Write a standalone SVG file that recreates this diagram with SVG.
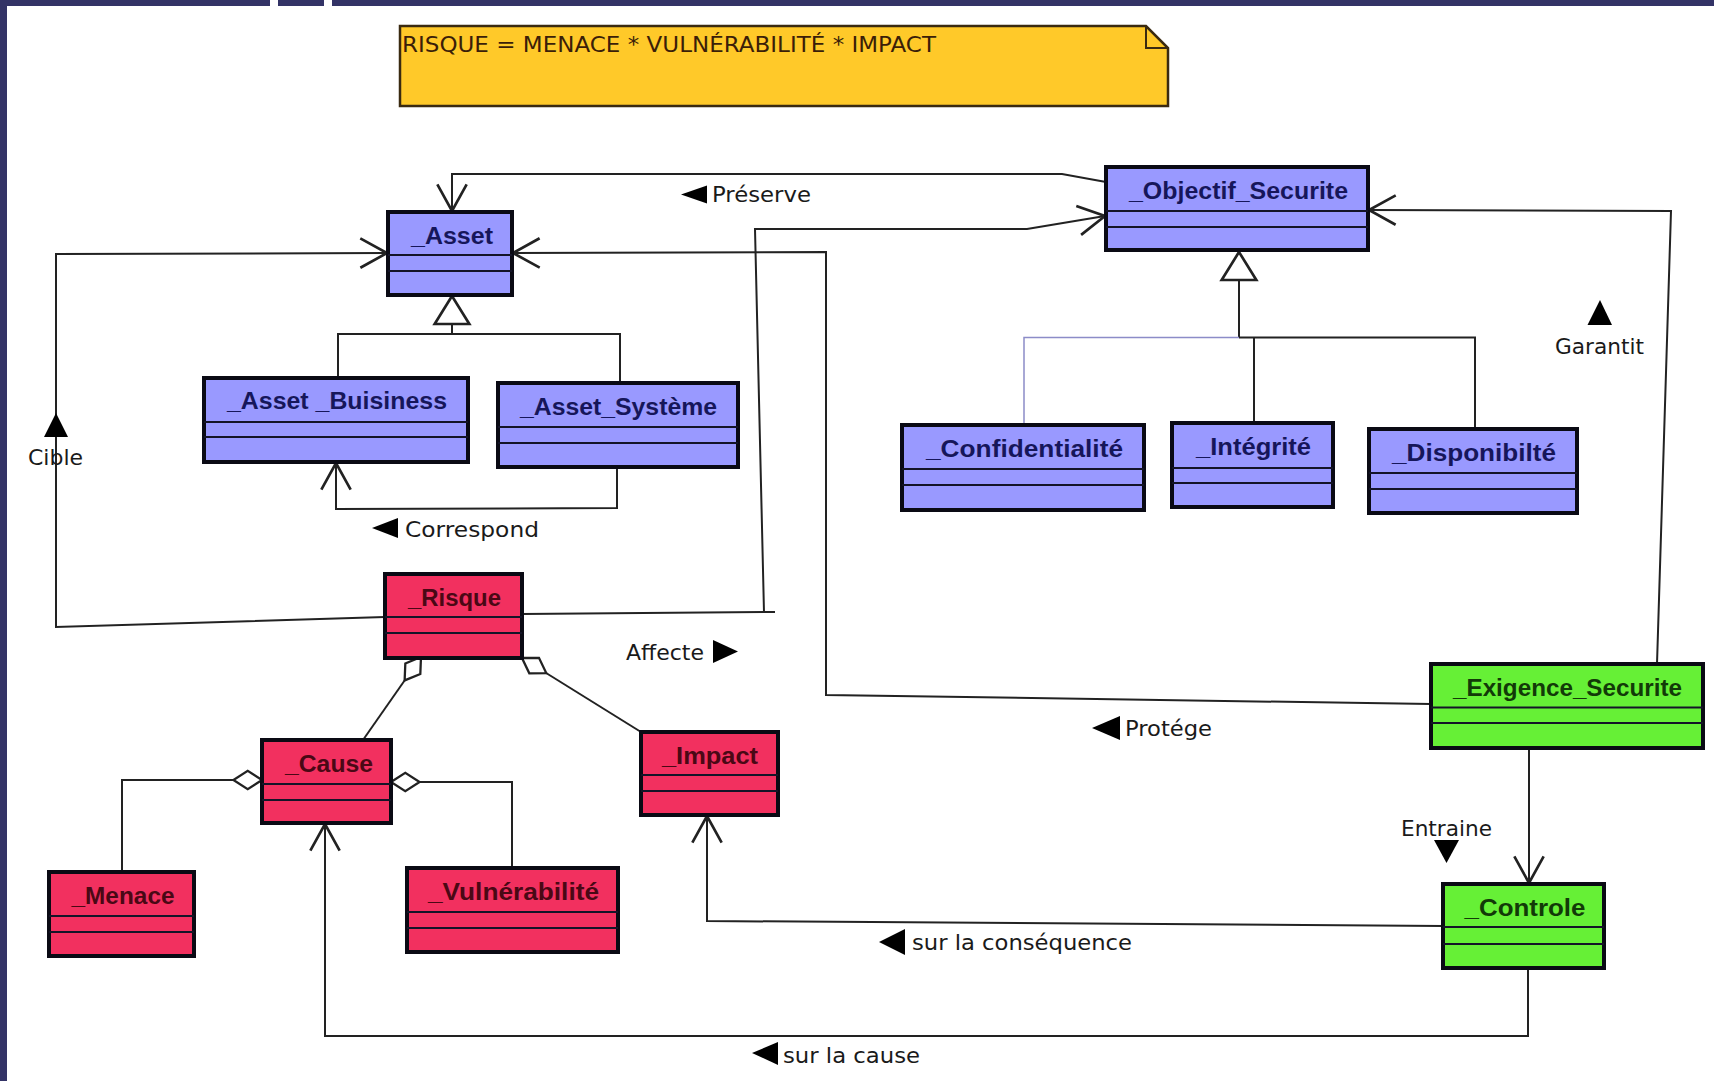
<svg xmlns="http://www.w3.org/2000/svg" width="1714" height="1081" viewBox="0 0 1714 1081">
<defs>
<style>
.cls rect.box{stroke:#0a0a14;stroke-width:4}
.blue rect.box{fill:#9999FF}
.red rect.box{fill:#F2305F}
.green rect.box{fill:#66F036}
.div{stroke:#141428;stroke-width:2}
.name{font-family:"Liberation Sans","DejaVu Sans",sans-serif;font-weight:bold;font-size:23px;text-anchor:middle}
.blue .name{fill:#16165a}
.red .name{fill:#4a0815}
.green .name{fill:#123a08}
.conn{fill:none;stroke:#222;stroke-width:2}
.lbl{font-family:"DejaVu Sans","Liberation Sans",sans-serif;font-size:21px;fill:#1a1a1a}
.tri{fill:#000}
</style>
<marker id="open" markerUnits="userSpaceOnUse" markerWidth="40" markerHeight="40" refX="0" refY="0" orient="auto" viewBox="-25 -15 30 30" overflow="visible">
<path d="M-20,-11 L0,0 L-20,11" fill="none" stroke="#222" stroke-width="2"/>
</marker>
<marker id="diamond" markerUnits="userSpaceOnUse" markerWidth="40" markerHeight="40" refX="0" refY="0" orient="auto" viewBox="-5 -15 35 30" overflow="visible">
<path d="M0,0 L12.5,-8 L25,0 L12.5,8 Z" fill="#fff" stroke="#222" stroke-width="2"/>
</marker>
<marker id="gen" markerUnits="userSpaceOnUse" markerWidth="40" markerHeight="40" refX="0" refY="0" orient="auto" viewBox="-25 -15 30 30" overflow="visible">
<path d="M0,0 L-21,-13 L-21,13 Z" fill="#fff" stroke="#222" stroke-width="2"/>
</marker>
</defs>
<rect x="0" y="0" width="1714" height="1081" fill="#fff"/>
<g id="frame">
<rect x="0" y="0" width="270" height="6" fill="#333366"/>
<rect x="278" y="0" width="46" height="6" fill="#333366"/>
<rect x="332" y="0" width="1382" height="6" fill="#333366"/>
<rect x="0" y="0" width="7" height="1081" fill="#333366"/>
</g>
<g id="note">
<path d="M400,26 H1146 L1168,48 V106 H400 Z" fill="#FFC929" stroke="#3a2a10" stroke-width="2.5"/>
<path d="M1146,26 V48 H1168" fill="none" stroke="#3a2a10" stroke-width="2"/>
<text x="402" y="52" class="lbl" style="fill:#3b1e08" textLength="534" lengthAdjust="spacingAndGlyphs">RISQUE = MENACE * VULNÉRABILITÉ * IMPACT</text>
</g>
<g id="connectors">
<path class="conn" d="M1106,182 L1062,174 L452,174 L452,211" marker-end="url(#open)"/>
<path class="conn" d="M522,614 L775,612"/>
<path class="conn" d="M764,612.5 L755,229 L1027,229 L1105,216" marker-end="url(#open)"/>
<path class="conn" d="M1431,704 L826,695 L826,252 L513,253" marker-end="url(#open)"/>
<path class="conn" d="M385,617 L56,627 L56,254 L387,253" marker-end="url(#open)"/>
<path class="conn" d="M617,467 L617,508 L336,509 L336,463" marker-end="url(#open)"/>
<path class="conn" d="M1657,664 L1671,211 L1369,210" marker-end="url(#open)"/>
<path class="conn" d="M1529,748 L1529,883" marker-end="url(#open)"/>
<path class="conn" d="M1443,926 L707,921 L707,816" marker-end="url(#open)"/>
<path class="conn" d="M1528,968 L1528,1036 L325,1036 L325,824" marker-end="url(#open)"/>
<path class="conn" d="M338,378 V334 H620 V383"/>
<path class="conn" d="M452,334 V296" marker-end="url(#gen)"/>
<path class="conn" d="M1239,338 V252" marker-end="url(#gen)"/>
<path class="conn" d="M1239,337.5 H1475 V429"/>
<path class="conn" d="M1254,337.5 V423"/>
<path d="M1239,337.5 H1024 V425" fill="none" stroke="#8c8cc8" stroke-width="1.5"/>
<path class="conn" d="M421,657 L363,740" marker-start="url(#diamond)"/>
<path class="conn" d="M522,658 L641,732" marker-start="url(#diamond)"/>
<path class="conn" d="M262,780 H122 V872" marker-start="url(#diamond)"/>
<path class="conn" d="M391,782 H512 V868" marker-start="url(#diamond)"/>
</g>
<g id="labels">
<polygon class="tri" points="681,194.5 707,185.5 707,203.5"/>
<text class="lbl" x="712" y="202" textLength="99" lengthAdjust="spacingAndGlyphs">Préserve</text>
<polygon class="tri" points="372,528 398,518 398,538"/>
<text class="lbl" x="405" y="537" textLength="134" lengthAdjust="spacingAndGlyphs">Correspond</text>
<polygon class="tri" points="56,413 44,437 68,437"/>
<text class="lbl" x="28" y="465" textLength="55" lengthAdjust="spacingAndGlyphs">Cible</text>
<polygon class="tri" points="713,640 738,651.5 713,663"/>
<text class="lbl" x="626" y="660" textLength="78" lengthAdjust="spacingAndGlyphs">Affecte</text>
<polygon class="tri" points="1092,728 1120,716 1120,740"/>
<text class="lbl" x="1125" y="736" textLength="87" lengthAdjust="spacingAndGlyphs">Protége</text>
<polygon class="tri" points="1600,300 1587.5,325 1612,325"/>
<text class="lbl" x="1555" y="354" textLength="89" lengthAdjust="spacingAndGlyphs">Garantit</text>
<text class="lbl" x="1401" y="836" textLength="91" lengthAdjust="spacingAndGlyphs">Entraine</text>
<polygon class="tri" points="1434,840 1459,840 1446.5,863"/>
<polygon class="tri" points="879,942 905,929 905,955"/>
<text class="lbl" x="912" y="950" textLength="220" lengthAdjust="spacingAndGlyphs">sur la conséquence</text>
<polygon class="tri" points="752,1053 778,1042 778,1065"/>
<text class="lbl" x="783" y="1063" textLength="137" lengthAdjust="spacingAndGlyphs">sur la cause</text>
</g>
<g id="node-asset" class="cls blue">
<rect class="box" x="388" y="212" width="124" height="83"/>
<line class="div" x1="388" y1="255" x2="512" y2="255"/><line class="div" x1="388" y1="271" x2="512" y2="271"/>
<text class="name" x="452" y="244" textLength="82" lengthAdjust="spacingAndGlyphs">_Asset</text>
</g>
<g id="node-asset-buisiness" class="cls blue">
<rect class="box" x="204" y="378" width="264" height="84"/>
<line class="div" x1="204" y1="422" x2="468" y2="422"/><line class="div" x1="204" y1="437" x2="468" y2="437"/>
<text class="name" x="337" y="409" textLength="220" lengthAdjust="spacingAndGlyphs">_Asset _Buisiness</text>
</g>
<g id="node-asset-systeme" class="cls blue">
<rect class="box" x="498" y="383" width="240" height="84"/>
<line class="div" x1="498" y1="427" x2="738" y2="427"/><line class="div" x1="498" y1="443" x2="738" y2="443"/>
<text class="name" x="618.5" y="415" textLength="197" lengthAdjust="spacingAndGlyphs">_Asset_Système</text>
</g>
<g id="node-objectif" class="cls blue">
<rect class="box" x="1106" y="167" width="262" height="83"/>
<line class="div" x1="1106" y1="211" x2="1368" y2="211"/><line class="div" x1="1106" y1="227" x2="1368" y2="227"/>
<text class="name" x="1238.5" y="199" textLength="219" lengthAdjust="spacingAndGlyphs">_Objectif_Securite</text>
</g>
<g id="node-confidentialite" class="cls blue">
<rect class="box" x="902" y="425" width="242" height="85"/>
<line class="div" x1="902" y1="469" x2="1144" y2="469"/><line class="div" x1="902" y1="485" x2="1144" y2="485"/>
<text class="name" x="1024.5" y="457" textLength="197" lengthAdjust="spacingAndGlyphs">_Confidentialité</text>
</g>
<g id="node-integrite" class="cls blue">
<rect class="box" x="1172" y="423" width="161" height="84"/>
<line class="div" x1="1172" y1="468" x2="1333" y2="468"/><line class="div" x1="1172" y1="483" x2="1333" y2="483"/>
<text class="name" x="1253.5" y="455" textLength="115" lengthAdjust="spacingAndGlyphs">_Intégrité</text>
</g>
<g id="node-disponibilte" class="cls blue">
<rect class="box" x="1369" y="429" width="208" height="84"/>
<line class="div" x1="1369" y1="473" x2="1577" y2="473"/><line class="div" x1="1369" y1="489" x2="1577" y2="489"/>
<text class="name" x="1474" y="461" textLength="164" lengthAdjust="spacingAndGlyphs">_Disponibilté</text>
</g>
<g id="node-risque" class="cls red">
<rect class="box" x="385" y="574" width="137" height="84"/>
<line class="div" x1="385" y1="617" x2="522" y2="617"/><line class="div" x1="385" y1="633" x2="522" y2="633"/>
<text class="name" x="454.5" y="606" textLength="93" lengthAdjust="spacingAndGlyphs">_Risque</text>
</g>
<g id="node-cause" class="cls red">
<rect class="box" x="262" y="740" width="129" height="83"/>
<line class="div" x1="262" y1="784" x2="391" y2="784"/><line class="div" x1="262" y1="800" x2="391" y2="800"/>
<text class="name" x="329" y="772" textLength="88" lengthAdjust="spacingAndGlyphs">_Cause</text>
</g>
<g id="node-impact" class="cls red">
<rect class="box" x="641" y="732" width="137" height="83"/>
<line class="div" x1="641" y1="775" x2="778" y2="775"/><line class="div" x1="641" y1="791" x2="778" y2="791"/>
<text class="name" x="710" y="764" textLength="96" lengthAdjust="spacingAndGlyphs">_Impact</text>
</g>
<g id="node-menace" class="cls red">
<rect class="box" x="49" y="872" width="145" height="84"/>
<line class="div" x1="49" y1="916" x2="194" y2="916"/><line class="div" x1="49" y1="932" x2="194" y2="932"/>
<text class="name" x="123" y="904" textLength="103" lengthAdjust="spacingAndGlyphs">_Menace</text>
</g>
<g id="node-vulnerabilite" class="cls red">
<rect class="box" x="407" y="868" width="211" height="84"/>
<line class="div" x1="407" y1="912" x2="618" y2="912"/><line class="div" x1="407" y1="928" x2="618" y2="928"/>
<text class="name" x="513.5" y="900" textLength="171" lengthAdjust="spacingAndGlyphs">_Vulnérabilité</text>
</g>
<g id="node-exigence" class="cls green">
<rect class="box" x="1431" y="664" width="272" height="84"/>
<line class="div" x1="1431" y1="707.5" x2="1703" y2="707.5"/><line class="div" x1="1431" y1="723" x2="1703" y2="723"/>
<text class="name" x="1567.5" y="696" textLength="229" lengthAdjust="spacingAndGlyphs">_Exigence_Securite</text>
</g>
<g id="node-controle" class="cls green">
<rect class="box" x="1443" y="884" width="161" height="84"/>
<line class="div" x1="1443" y1="927" x2="1604" y2="927"/><line class="div" x1="1443" y1="944" x2="1604" y2="944"/>
<text class="name" x="1525" y="916" textLength="121" lengthAdjust="spacingAndGlyphs">_Controle</text>
</g>
</svg>
